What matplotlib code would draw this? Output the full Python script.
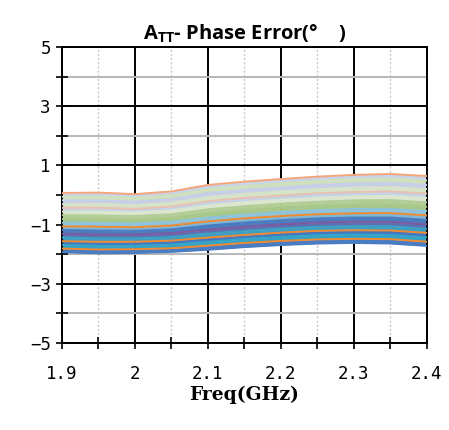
import matplotlib
matplotlib.use('Agg')
import matplotlib.pyplot as plt
from matplotlib.ticker import MultipleLocator

# frequency points (GHz)
freq = [1.9, 1.95, 2.0, 2.05, 2.1, 2.15, 2.2, 2.25, 2.3, 2.35, 2.4]

# phase error curves, top to bottom (deg)
curves = [
    [0.07, 0.08, 0.03, 0.12, 0.34, 0.45, 0.54, 0.62, 0.68, 0.71, 0.64],
    [-0.06, -0.05, -0.09, -0.01, 0.20, 0.31, 0.40, 0.48, 0.54, 0.56, 0.49],
    [-0.18, -0.18, -0.22, -0.14, 0.07, 0.17, 0.26, 0.34, 0.39, 0.42, 0.34],
    [-0.31, -0.30, -0.34, -0.26, -0.07, 0.04, 0.12, 0.20, 0.25, 0.27, 0.20],
    [-0.43, -0.43, -0.47, -0.39, -0.21, -0.10, -0.02, 0.06, 0.10, 0.12, 0.05],
    [-0.56, -0.56, -0.59, -0.52, -0.35, -0.24, -0.16, -0.09, -0.04, -0.03, -0.10],
    [-0.68, -0.69, -0.71, -0.65, -0.48, -0.38, -0.29, -0.23, -0.18, -0.17, -0.25],
    [-0.81, -0.82, -0.84, -0.78, -0.62, -0.52, -0.43, -0.37, -0.33, -0.32, -0.40],
    [-0.93, -0.94, -0.96, -0.90, -0.76, -0.66, -0.57, -0.51, -0.47, -0.47, -0.54],
    [-1.06, -1.07, -1.09, -1.03, -0.89, -0.79, -0.71, -0.65, -0.62, -0.61, -0.69],
    [-1.18, -1.20, -1.21, -1.16, -1.03, -0.93, -0.85, -0.79, -0.76, -0.76, -0.84],
    [-1.31, -1.33, -1.33, -1.29, -1.17, -1.07, -0.99, -0.93, -0.90, -0.91, -0.99],
    [-1.43, -1.46, -1.46, -1.42, -1.30, -1.21, -1.13, -1.07, -1.05, -1.05, -1.14],
    [-1.56, -1.58, -1.58, -1.54, -1.44, -1.35, -1.27, -1.21, -1.19, -1.20, -1.28],
    [-1.68, -1.71, -1.71, -1.67, -1.58, -1.48, -1.41, -1.35, -1.33, -1.35, -1.43],
    [-1.81, -1.84, -1.83, -1.80, -1.71, -1.62, -1.55, -1.50, -1.48, -1.49, -1.58],
    [-1.93, -1.97, -1.96, -1.92, -1.85, -1.76, -1.69, -1.64, -1.62, -1.64, -1.72],
]

# fill colour of the band below each curve, and colour of the curve line itself
band_colors = ['#c8d4ea', '#cfe0bf', '#c6cfe6', '#d6e3c9', '#c4d2e8', '#dbe6cf',
               '#b3cd96', '#a8c88a', '#8fc3da', '#80b6d6', '#4a7dc0', '#5f6fb0',
               '#3e9fc2', '#4576c0', '#35a3c6', '#4a7cc4']
line_colors = ['#f4a57a', '#cfe0bf', '#c6cfe6', '#d6e3c9', '#e8c0b0', '#dbe6cf',
               '#b3cd96', '#a8c88a', '#8fc3da', '#f08a30', '#4a7dc0', '#7e5aa0',
               '#3e9fc2', '#f08a30', '#35a3c6', '#f08a30', '#4a7cc4']

yticks = [5, 3, 1, -1, -3, -5]
yticklabels = ['5', '3', '1', '\u22121', '\u22123', '\u22125']
xticks = [1.9, 2.0, 2.1, 2.2, 2.3, 2.4]
xticklabels = ['1.9', '2', '2.1', '2.2', '2.3', '2.4']

plt.rcParams['mathtext.fontset'] = 'custom'
plt.rcParams['mathtext.rm'] = 'Open Sans:bold'

fig = plt.figure(figsize=(4.49, 4.30), dpi=100)
ax = fig.add_axes([0.138, 0.2023, 0.813, 0.6884])

for i in range(len(curves) - 1):
    ax.fill_between(freq, curves[i], curves[i + 1], color=band_colors[i], lw=0, zorder=2)
for i, c in enumerate(curves):
    ax.plot(freq, c, color=line_colors[i], lw=1.4, zorder=3)

ax.set_xlim(1.9, 2.4)
ax.set_ylim(-5, 5)
ax.set_xticks(xticks)
ax.set_xticklabels(xticklabels)
ax.xaxis.set_minor_locator(MultipleLocator(0.05))
ax.set_yticks(yticks)
ax.set_yticklabels(yticklabels)
ax.yaxis.set_minor_locator(MultipleLocator(1))

ax.grid(which='major', color='black', lw=1.4, zorder=1)
ax.grid(which='minor', axis='y', color='#b8b8b8', lw=1.4, zorder=1)
ax.grid(which='minor', axis='x', color='#c8c8c8', lw=1.0, ls=(0, (1.5, 1.5)), zorder=1)
ax.set_axisbelow(True)

for s in ax.spines.values():
    s.set_color('black')
    s.set_linewidth(1.4)

ax.tick_params(which='both', direction='inout', length=8, width=1.2, colors='black')
ax.tick_params(which='both', top=False, right=False)
ax.tick_params(axis='x', pad=12)
ax.tick_params(axis='y', pad=4)
for lab in ax.get_xticklabels() + ax.get_yticklabels():
    lab.set_fontfamily('DejaVu Sans Mono')
    lab.set_fontsize(12.5)

ax.set_xlabel('Freq(GHz)', family='DejaVu Serif', fontweight='bold', fontsize=13.5, labelpad=2)
ax.set_title('A$_{\\mathrm{TT}}$- Phase Error(\u00b0    )', family='Open Sans',
             fontweight='bold', fontsize=14.5, pad=5)

fig.savefig('out.png', dpi=100)
